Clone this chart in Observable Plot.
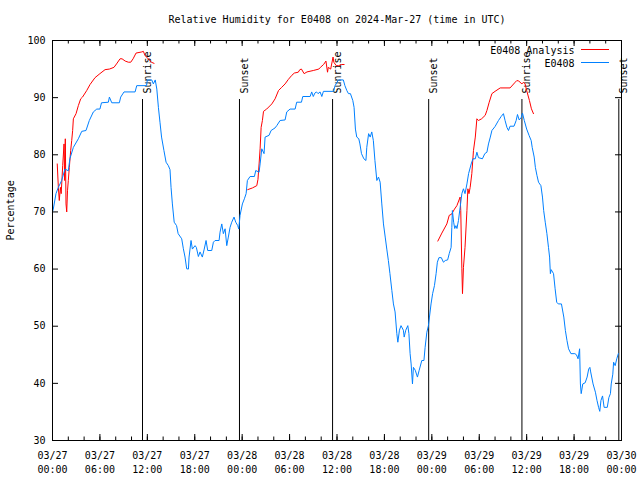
<!DOCTYPE html>
<html><head><meta charset="utf-8">
<script src="https://cdn.jsdelivr.net/npm/d3@7"></script>
<script src="https://cdn.jsdelivr.net/npm/@observablehq/plot@0.6"></script>
<style>body{margin:0;background:#fff;} svg{display:block;}</style>
</head><body><div id="chart"></div>
<script>
const startUTC = Date.UTC(2024, 2, 27);
const titleText = "Relative Humidity for E0408 on 2024-Mar-27 (time in UTC)";
const yLabelText = "Percentage";
const legendLabels = ["E0408 Analysis", "E0408"];
const legendColors = ["#ff0000", "#0080ff"];

// Observed series (hours since 2024-03-27 00:00 UTC, percent)
const blueHours = [0.0,0.1,0.44,0.74,1.16,1.58,2.0,2.2,2.64,3.27,3.7,4.24,4.66,5.17,5.6,6.0,6.2,7.07,7.2,7.5,8.46,8.63,9.05,10.45,10.66,11.9,12.0,12.56,12.76,13.0,13.2,13.4,13.6,13.8,14.1,14.37,14.66,14.87,15.0,15.17,15.4,15.7,15.9,16.35,16.56,16.77,16.98,17.2,17.28,17.53,17.7,18.04,18.2,18.46,18.67,18.96,19.2,19.43,19.64,20.15,20.36,20.57,21.08,21.2,21.42,21.62,21.84,22.05,22.25,22.47,22.68,22.97,23.19,23.44,23.57,23.73,24.03,24.28,24.5,24.66,25.0,25.55,25.72,26.14,26.27,26.48,26.77,26.9,27.4,27.66,28.16,28.38,28.8,29.43,29.64,30.06,30.7,30.9,31.5,31.67,32.6,32.8,33.0,33.2,33.4,33.6,33.86,34.08,34.28,35.55,35.76,36.18,36.8,37.0,37.24,37.45,37.7,38.0,38.16,38.33,38.5,38.76,38.9,39.1,39.4,39.66,39.77,40.0,40.2,40.4,40.6,40.8,41.04,41.25,41.46,41.67,41.88,42.1,42.3,42.5,42.7,42.94,43.14,43.35,43.57,43.7,43.9,44.1,44.4,44.5,44.7,44.96,45.1,45.25,45.38,45.55,45.67,45.9,46.18,46.4,46.73,47.0,47.15,47.37,47.57,47.7,47.9,48.1,48.33,48.54,48.7,48.9,49.2,49.47,49.7,50.0,50.2,50.44,50.53,50.6,50.76,50.9,51.05,51.18,51.37,51.58,51.8,52.0,52.2,52.44,52.65,52.98,53.2,53.5,53.7,53.9,54.4,54.7,54.97,55.17,55.4,55.6,56.0,56.43,56.77,57.06,57.27,57.5,57.7,57.9,58.4,58.67,58.84,59.05,59.3,59.47,59.7,60.0,60.3,60.57,60.7,60.95,61.1,61.3,61.5,61.8,62.0,62.15,62.35,62.56,62.76,62.9,63.0,63.1,63.4,63.6,63.8,64.0,64.4,64.7,64.9,65.1,65.3,65.6,66.1,66.3,66.5,66.7,66.8,66.9,67.1,67.4,67.65,67.85,68.0,68.1,68.4,68.7,68.9,69.1,69.25,69.4,69.6,69.8,70.2,70.4,70.6,70.7,70.9,71.0,71.2,71.4,71.6];
const blueValues = [70,70.5,73.2,74.3,75.5,77.5,77.2,79.3,81.3,82.8,84.1,84.25,86,87.5,88,88,89.1,89.2,90.1,89.1,89.1,90.1,91,91,92.1,92.1,93.1,93.1,92.4,93.1,91.5,88.3,85.7,83.1,80.75,78.7,78.1,77.4,74.3,71.4,68.2,67.6,66.2,65.3,63.55,62.1,60.05,60,62.1,65,63.5,64.1,63.8,62.2,63,62.1,63.5,65,63.25,63.25,64.7,65,65,66.45,67.9,66.2,67.05,64.1,65.6,67.3,68.2,69.1,68.2,67.6,67,69.4,71.4,72.3,73.2,75.5,76.2,76.2,77.25,76.95,78.4,81.05,80.2,83.1,83.4,84.25,84.7,85.1,86,86.1,87.5,88,88,89.2,89.2,90.2,90.2,91,90.2,90.8,91,90.7,91,90.2,91.1,91.1,92.1,93.1,93.1,92.1,91.25,90.7,90.7,89.5,88.3,84.5,83.1,82.8,81.9,80.2,79.3,79,81.3,83.7,83.1,84,82.5,79,75.5,76.1,75.2,71.4,67.9,65.6,63.5,61.5,59.2,56.25,53.9,52.5,48.7,47.2,49.3,50.1,49.3,48.1,49.3,50.1,48.7,45.2,43.4,39.9,42.8,42.3,41.1,42.3,44,44,46.3,48.95,50.1,51.6,53.9,55.7,57.1,59.2,61.2,62,62,61.2,61.5,61.6,62.7,63.8,67.3,70.25,68.2,67.1,67.6,67.1,68.5,70.8,73.2,74.05,73.2,74.9,76.7,78.4,79.3,79.3,80.45,79.5,79.3,80.2,80.45,81.9,83.1,84.25,84.95,86,86.7,87.2,86,84.8,84.25,85,85,86,87.05,86.1,86.5,87.3,86,84.5,83.4,82.5,81.3,79.6,77.8,76.4,75.2,74.6,72.6,70.25,68.2,66.2,63.8,62.1,59.2,59.9,59.2,56.55,54.2,53.9,53.9,51.6,49.25,47.5,46.05,45.2,45.2,45,44.3,46.05,39.9,38.2,39.9,40.1,41.1,42.5,42.8,42,39.9,38.45,37,35.8,35.1,37,37.8,35.8,35.8,37.5,38.2,39.9,41.6,43.7,43.1,44.3,45.2];

// Analysis series, three separate runs
const redHours1 = [0.6,0.74,0.86,1.0,1.1,1.29,1.46,1.54,1.62,1.71,1.8,1.9,2.0,2.13,2.3,2.43,2.55,2.64,2.98,3.27,3.57,3.8,4.33,4.75,5.38,6.0,6.65,7.2,7.78,8.1,8.55,8.8,9.2,9.6,9.9,10.2,10.57,11.3,11.5,11.7,11.9,12.25,12.5,12.85];
const redValues1 = [78.4,74.3,72,74.3,73.2,78.1,81.9,75.5,82.8,71.4,70,73.7,75.5,77.8,80.75,82.5,84.25,86.3,87.2,88.6,89.8,90.1,91.25,92.3,93.5,94.2,94.9,95.0,95.3,95.9,96.8,96.8,96.4,96.2,96.2,96.8,97.8,98,98.1,97.4,97.1,96.6,96.2,96.0];
const redHours2 = [24.7,25.3,25.85,26.0,26.14,26.27,26.4,26.56,26.7,27.1,27.75,28.17,28.6,29.0,29.43,29.85,30.28,30.6,31.1,31.3,31.5,31.84,32.2,33.0,33.7,33.9,34.3,34.6,34.8,34.9,35.2,35.5,35.6,35.9,36.2,36.6,36.9];
const redValues2 = [73.9,74.2,74.6,75.7,78.4,81.05,84.8,86,87.6,88,88.9,89.8,91.25,91.8,92.4,93.2,93.9,94.3,94.45,94.9,95,94.2,94.5,94.75,95,95.3,95.8,96.4,94.45,95.3,95,97.1,96.2,95.6,95.6,95.8,95.8];
const redHours3 = [48.76,49.27,49.9,50.2,50.5,50.87,51.17,51.58,51.66,51.8,51.88,52.0,52.2,52.44,52.56,52.7,52.85,53.06,53.27,53.5,53.7,53.9,54.3,54.75,54.97,55.26,55.6,56.0,56.65,57.9,58.55,58.76,59.0,59.4,59.6,59.8,60.0,60.35,60.6,60.86];
const redValues3 = [64.9,66.3,67.9,69.4,69.6,70.5,71.1,72.6,70.25,60.05,55.7,60.3,63.8,70.25,74.05,73.2,74.3,76.7,80.75,83.1,86.3,86,86.3,86.9,87.75,89.2,90.7,91.1,91.7,91.7,92.7,93,92.9,92.4,92.7,92.4,91.25,89.5,88.05,87.2];

const sunHours = [11.39, 23.66, 35.44, 47.6, 59.4, 71.66];
const sunLabels = ["Sunrise", "Sunset", "Sunrise", "Sunset", "Sunrise", "Sunset"];

const yTicks = [30, 40, 50, 60, 70, 80, 90, 100];
const xMajorHours = [0, 6, 12, 18, 24, 30, 36, 42, 48, 54, 60, 66, 72];
const xMinorHours = d3.range(0, 73, 2);

const toDate = h => new Date(startUTC + h * 3600e3);
const blue = blueHours.map((h, i) => ({date: toDate(h), value: blueValues[i]}));
const red = [[redHours1, redValues1], [redHours2, redValues2], [redHours3, redValues3]]
  .flatMap(([hs, vs], s) => hs.map((h, i) => ({date: toDate(h), value: vs[i], seg: s})));
const sun = sunHours.map((h, i) => ({date: toDate(h), label: sunLabels[i]}));
const majorDates = xMajorHours.map(toDate);
const minorDates = xMinorHours.map(toDate);

const mono = "DejaVu Sans Mono";
const W = 640, H = 480, mL = 52, mR = 19, mT = 40, mB = 40;
const fw = W - mL - mR, fh = H - mT - mB;

const chart = Plot.plot({
  width: W, height: H,
  marginLeft: mL, marginRight: mR, marginTop: mT, marginBottom: mB,
  style: {fontFamily: mono, fontSize: "10px", background: "#fff", color: "#000"},
  x: {type: "utc", domain: [toDate(0), toDate(72)], axis: null},
  y: {domain: [30, 100], axis: null},
  marks: [
    // ticks (inward, gnuplot style)
    Plot.ruleX(minorDates, {stroke: "#000", insetTop: fh - 3.5}),
    Plot.ruleX(minorDates, {stroke: "#000", insetBottom: fh - 3.5}),
    Plot.ruleX(majorDates, {stroke: "#000", insetTop: fh - 6}),
    Plot.ruleX(majorDates, {stroke: "#000", insetBottom: fh - 6}),
    Plot.ruleY(yTicks, {stroke: "#000", insetRight: fw - 6}),
    Plot.ruleY(yTicks, {stroke: "#000", insetLeft: fw - 6}),
    Plot.axisY({ticks: yTicks, tickSize: 0, tickPadding: 7, label: null, fontFamily: mono, fontSize: 10}),
    Plot.text(majorDates, {x: d => d, text: d => d3.utcFormat("%m/%d")(d) + "\n" + d3.utcFormat("%H:%M")(d),
      frameAnchor: "bottom", lineAnchor: "top", dy: 9, lineHeight: 1.4, fill: "#000", fontFamily: mono, fontSize: 10}),
    // sunrise / sunset markers
    Plot.ruleX(sun, {x: "date", stroke: "#000", insetTop: 59}),
    Plot.text(sun, {x: "date", text: "label", frameAnchor: "top", rotate: -90, textAnchor: "start",
      dy: 53, dx: 1, fill: "#000", fontFamily: mono, fontSize: 10}),
    // data
    Plot.line(red, {x: "date", y: "value", z: "seg", stroke: legendColors[0], strokeWidth: 1}),
    Plot.line(blue, {x: "date", y: "value", stroke: legendColors[1], strokeWidth: 1}),
    Plot.frame({stroke: "#000"}),
    // title and y label
    Plot.text([titleText], {frameAnchor: "top", dy: -25, fill: "#000", fontFamily: mono, fontSize: 10}),
    Plot.text([yLabelText], {frameAnchor: "left", dx: -42, rotate: -90, fill: "#000", fontFamily: mono, fontSize: 10}),
    // legend labels
    Plot.text([legendLabels[0]], {frameAnchor: "top-right", dx: -47, dy: 6, textAnchor: "end", fill: "#000", fontFamily: mono, fontSize: 10}),
    Plot.text([legendLabels[1]], {frameAnchor: "top-right", dx: -47, dy: 19, textAnchor: "end", fill: "#000", fontFamily: mono, fontSize: 10})
  ]
});
// legend swatches
const svg = d3.select(chart);
legendColors.forEach((c, i) => {
  svg.append("line")
    .attr("x1", W - mR - 40).attr("x2", W - mR - 12)
    .attr("y1", mT + 9.5 + i * 13).attr("y2", mT + 9.5 + i * 13)
    .attr("stroke", c).attr("stroke-width", 1);
});
document.getElementById("chart").appendChild(chart);
</script>
</body></html>
